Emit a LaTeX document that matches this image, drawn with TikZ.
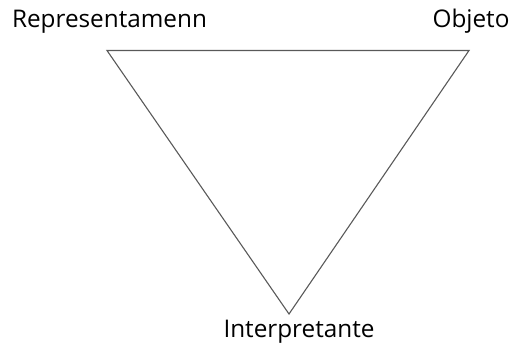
\documentclass[tikz,border=0pt]{standalone}
\usepackage{fontspec}
\setmainfont{Open Sans}
\begin{document}
\begin{tikzpicture}[x=1pt,y=-1pt,
  lbl/.style={anchor=base,inner sep=0pt,font=\fontsize{24.3}{28}\selectfont,text=black},
  edge/.style={draw=black!65,line width=1.1pt,line join=miter}]
\useasboundingbox (0,0) rectangle (514,345);
\coordinate (r) at (107,50.5);
\coordinate (o) at (469,50.5);
\coordinate (i) at (289,314);
\draw[edge] (r) -- (o) -- (i) -- cycle;
\node[lbl] (lr) at (109.5,28) {Representamenn};
\node[lbl] (lo) at (471,28) {Objeto};
\node[lbl] (li) at (299,337) {Interpretante};
\end{tikzpicture}
\end{document}
